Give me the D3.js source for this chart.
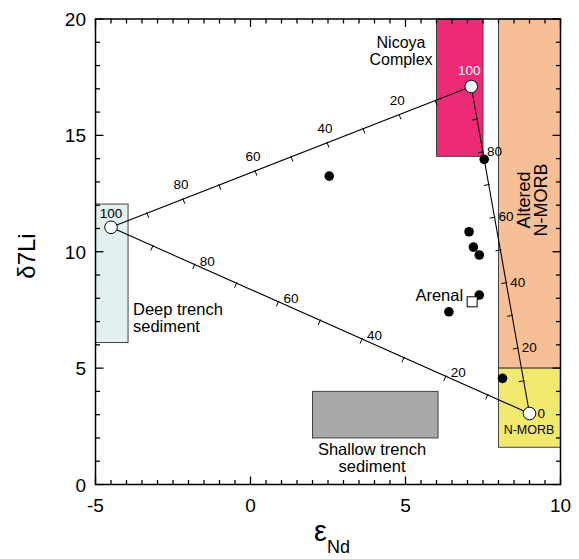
<!DOCTYPE html>
<html>
<head>
<meta charset="utf-8">
<script src="https://cdn.jsdelivr.net/npm/d3@7"></script>
<style>
  html, body { margin: 0; padding: 0; background: #fff; }
  svg { display: block; font-family: "Liberation Sans", Arial, Helvetica, sans-serif; }
</style>
</head>
<body>
<svg id="chart" width="579" height="559"></svg>
<script>
// Lava samples (filled dots)
const sampleEps = [2.54, 7.54, 7.05, 7.19, 7.38, 7.38, 6.40, 8.13];
const sampleLi  = [13.25, 13.97, 10.86, 10.2, 9.86, 8.14, 7.42, 4.56];

// Arenal average (open square)
const arenal = { name: "Arenal", eps: 7.15, li: 7.85 };

// Source fields
const fieldNames = ["Nicoya Complex", "Altered N-MORB", "N-MORB", "Deep trench sediment", "Shallow trench sediment"];
const fieldEps   = [[6, 7.5], [8, 10], [8, 10], [-5, -3.95], [2, 6.05]];
const fieldLi    = [[14.1, 20], [5, 20], [1.6, 5], [6.1, 12.05], [2, 4]];
const fieldFill  = ["#ec2a76", "#f7bf96", "#f1e96d", "#e2f1f0", "#a8a8a8"];

// Mixing end-members
const endSediment = { eps: -4.5, li: 11.05 };
const endNicoya   = { eps: 7.12, li: 17.1 };
const endMorb     = { eps: 9.0,  li: 3.05 };

// Tick labels
const xTicks = [-5, 0, 5, 10];
const yTicks = [0, 5, 10, 15, 20];
const mixSteps  = [10, 20, 30, 40, 50, 60, 70, 80, 90];
const mixLabels = [20, 40, 60, 80];

const svg = d3.select("#chart");
const x = d3.scaleLinear().domain([-5, 10]).range([95.5, 560.5]);
const y = d3.scaleLinear().domain([0, 20]).range([484.5, 19]);

// Fields
const fields = svg.append("g");
fieldNames.forEach((n, i) => {
  fields.append("rect")
    .attr("x", x(fieldEps[i][0]))
    .attr("y", y(fieldLi[i][1]))
    .attr("width", x(fieldEps[i][1]) - x(fieldEps[i][0]))
    .attr("height", y(fieldLi[i][0]) - y(fieldLi[i][1]))
    .attr("fill", fieldFill[i])
    .attr("stroke", "#4a4040")
    .attr("stroke-width", 1);
});

// Frame and inward ticks
const frame = svg.append("g").attr("stroke", "#000").attr("fill", "none");
frame.append("rect")
  .attr("x", x(-5)).attr("y", y(20))
  .attr("width", x(10) - x(-5)).attr("height", y(0) - y(20))
  .attr("stroke-width", 1.5);

d3.range(-5, 10.01, 0.5).forEach(v => {
  const major = Math.abs(v % 5) < 1e-9;
  const len = major ? 8 : 4.5;
  frame.append("line").attr("x1", x(v)).attr("x2", x(v)).attr("y1", y(0)).attr("y2", y(0) - len).attr("stroke-width", 1.3);
  frame.append("line").attr("x1", x(v)).attr("x2", x(v)).attr("y1", y(20)).attr("y2", y(20) + len).attr("stroke-width", 1.3);
});
d3.range(0, 20.01, 1).forEach(v => {
  const major = v % 5 === 0;
  const len = major ? 8 : 4.5;
  frame.append("line").attr("x1", x(-5)).attr("x2", x(-5) + len).attr("y1", y(v)).attr("y2", y(v)).attr("stroke-width", 1.3);
  frame.append("line").attr("x1", x(10)).attr("x2", x(10) - len).attr("y1", y(v)).attr("y2", y(v)).attr("stroke-width", 1.3);
});

// Axis numbers
svg.append("g").selectAll("text").data(xTicks).join("text")
  .attr("x", d => x(d)).attr("y", 512)
  .attr("text-anchor", "middle").attr("font-size", 19)
  .text(d => d);
svg.append("g").selectAll("text").data(yTicks).join("text")
  .attr("x", 86).attr("y", d => y(d) + 7)
  .attr("text-anchor", "end").attr("font-size", 19)
  .text(d => d);

// Axis titles
svg.append("text")
  .attr("transform", "translate(35,256) rotate(-90)")
  .attr("text-anchor", "middle").attr("font-size", 24)
  .text("δ7Li");
const xt = svg.append("text").attr("x", 314).attr("y", 541).attr("font-size", 29);
xt.append("tspan").text("ε");
xt.append("tspan").attr("font-size", 18).attr("dy", 12).text("Nd");

// Mixing lines with percentage ticks
function mixLine(a, b, labelFn, dxL, dyL, anchor) {
  const ax = x(a.eps), ay = y(a.li), bx = x(b.eps), by = y(b.li);
  const g = svg.append("g");
  g.append("line").attr("x1", ax).attr("y1", ay).attr("x2", bx).attr("y2", by)
    .attr("stroke", "#000").attr("stroke-width", 1.1);
  const L = Math.hypot(bx - ax, by - ay);
  const ux = (bx - ax) / L, uy = (by - ay) / L;
  const nx = -uy, ny = ux;
  mixSteps.forEach(p => {
    const px = ax + (bx - ax) * p / 100, py = ay + (by - ay) * p / 100;
    g.append("line")
      .attr("x1", px - nx * 1).attr("y1", py - ny * 1)
      .attr("x2", px + nx * 5).attr("y2", py + ny * 5)
      .attr("stroke", "#000").attr("stroke-width", 1);
    const lab = labelFn(p);
    if (mixLabels.includes(lab)) {
      g.append("text").attr("x", px + dxL).attr("y", py + dyL)
        .attr("text-anchor", anchor).attr("font-size", 13.5).text(lab);
    }
  });
}
mixLine(endSediment, endNicoya, p => 100 - p, -2, -10, "middle");
mixLine(endSediment, endMorb, p => 100 - p, 5, 1, "start");
mixLine(endNicoya, endMorb, p => 100 - p, 4, 4, "start");

// Samples
svg.append("g").selectAll("circle").data(sampleEps).join("circle")
  .attr("cx", d => x(d)).attr("cy", (d, i) => y(sampleLi[i]))
  .attr("r", 4.8).attr("fill", "#000");

svg.append("rect")
  .attr("x", x(arenal.eps) - 5).attr("y", y(arenal.li) - 5)
  .attr("width", 10).attr("height", 10)
  .attr("fill", "#fff").attr("stroke", "#000").attr("stroke-width", 1);
svg.append("text").attr("x", x(arenal.eps) - 9).attr("y", y(arenal.li) - 1)
  .attr("text-anchor", "end").attr("font-size", 16.5).text(arenal.name);

// End-member circles
[endSediment, endNicoya, endMorb].forEach(e => {
  svg.append("circle").attr("cx", x(e.eps)).attr("cy", y(e.li)).attr("r", 6.3)
    .attr("fill", "#fff").attr("stroke", "#000").attr("stroke-width", 1);
});
svg.append("text").attr("x", x(endSediment.eps)).attr("y", y(endSediment.li) - 9)
  .attr("text-anchor", "middle").attr("font-size", 13.5).text("100");
svg.append("text").attr("x", x(endNicoya.eps) - 2).attr("y", y(endNicoya.li) - 11)
  .attr("text-anchor", "middle").attr("font-size", 13.5).attr("fill", "#fff").text("100");
svg.append("text").attr("x", x(endMorb.eps) + 8).attr("y", y(endMorb.li) + 4)
  .attr("text-anchor", "start").attr("font-size", 13.5).text("0");

// Field labels
function multiline(xp, yp, lines, anchor, size, lh) {
  const t = svg.append("text").attr("x", xp).attr("y", yp)
    .attr("text-anchor", anchor).attr("font-size", size);
  lines.forEach((s, i) => t.append("tspan").attr("x", xp).attr("dy", i ? lh : 0).text(s));
  return t;
}
multiline(401, 48, ["Nicoya", "Complex"], "middle", 16, 17);
multiline(133, 315, ["Deep trench", "sediment"], "start", 16.5, 17);
multiline(372, 455, ["Shallow trench", "sediment"], "middle", 16.5, 17);
multiline(529, 434, ["N-MORB"], "middle", 12.5, 0);

const alt = svg.append("text")
  .attr("transform", "translate(530,200) rotate(-90)")
  .attr("text-anchor", "middle").attr("font-size", 18);
alt.append("tspan").attr("x", 0).attr("dy", 0).text("Altered");
alt.append("tspan").attr("x", 0).attr("dy", 17).text("N-MORB");
</script>
</body>
</html>
